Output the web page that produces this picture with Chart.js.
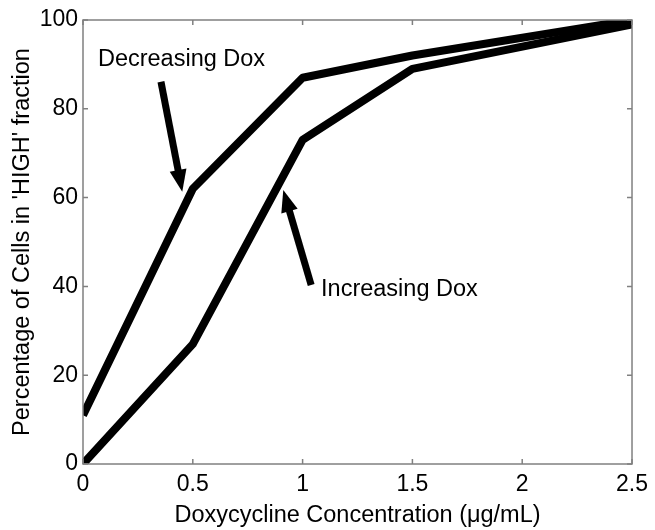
<!DOCTYPE html>
<html>
<head>
<meta charset="utf-8">
<script src="https://cdn.jsdelivr.net/npm/chart.js@4.4.1/dist/chart.umd.min.js"></script>
<style>
  html, body { margin: 0; padding: 0; background: #ffffff; }
  #wrap { width: 655px; height: 530px; }
</style>
</head>
<body>
<div id="wrap"><canvas id="c" width="655" height="530"></canvas></div>
<script>
// ---- data ----
const doseLevels = [0, 0.5, 1, 1.5, 2.5];
const decreasingDox = [11, 62, 87, 92, 100];
const increasingDox = [0, 27, 73, 89, 99];
const xTickValues = [0, 0.5, 1, 1.5, 2, 2.5];
const yTickValues = [0, 20, 40, 60, 80, 100];
const xTitle = 'Doxycycline Concentration (\u03BCg/mL)';
const yTitle = "Percentage of Cells in 'HIGH' fraction";
const labelTexts = ['Decreasing Dox', 'Increasing Dox'];

const FONT = '"Liberation Sans", Arial, Helvetica, sans-serif';
const AXIS_GRAY = '#808080';

// annotation anchors in data coordinates
const annotations = {
  texts: [
    { text: labelTexts[0], x: 0.068, y: 91.2 },
    { text: labelTexts[1], x: 1.084, y: 39.4 }
  ],
  arrows: [
    { from: [0.355, 86.1], to: [0.452, 61.3] },
    { from: [1.039, 40.3], to: [0.912, 61.7] }
  ]
};

function toPts(xs, ys) { return xs.map((x, i) => ({ x: x, y: ys[i] })); }

const framePlugin = {
  id: 'frameAndTicks',
  afterDatasetsDraw(chart) {
    const ctx = chart.ctx;
    const xs = chart.scales.x, ys = chart.scales.y;
    ctx.save();
    ctx.fillStyle = '#000';
    ctx.strokeStyle = '#000';
    annotations.arrows.forEach(ar => {
      const x0 = xs.getPixelForValue(ar.from[0]), y0 = ys.getPixelForValue(ar.from[1]);
      const x1 = xs.getPixelForValue(ar.to[0]), y1 = ys.getPixelForValue(ar.to[1]);
      const dx = x1 - x0, dy = y1 - y0, len = Math.hypot(dx, dy);
      const ux = dx / len, uy = dy / len;
      const headLen = 22, headW = 17;
      const bx = x1 - ux * headLen, by = y1 - uy * headLen;
      ctx.lineWidth = 7;
      ctx.lineCap = 'butt';
      ctx.beginPath();
      ctx.moveTo(x0, y0);
      ctx.lineTo(bx + ux * 2, by + uy * 2);
      ctx.stroke();
      ctx.beginPath();
      ctx.moveTo(x1, y1);
      ctx.lineTo(bx - uy * headW / 2, by + ux * headW / 2);
      ctx.lineTo(bx + uy * headW / 2, by - ux * headW / 2);
      ctx.closePath();
      ctx.fill();
    });
    ctx.font = '23.5px ' + FONT;
    ctx.textAlign = 'left';
    ctx.textBaseline = 'middle';
    ctx.fillStyle = '#000';
    annotations.texts.forEach(t => {
      ctx.fillText(t.text, xs.getPixelForValue(t.x), ys.getPixelForValue(t.y));
    });
    ctx.restore();
  },
  afterDraw(chart) {
    const ctx = chart.ctx;
    const a = chart.chartArea;
    const xs = chart.scales.x, ys = chart.scales.y;
    ctx.save();
    ctx.strokeStyle = AXIS_GRAY;
    ctx.lineWidth = 1.5;
    ctx.strokeRect(a.left, a.top, a.right - a.left, a.bottom - a.top);
    const tl = 5;
    ctx.beginPath();
    xs.ticks.forEach(t => {
      const px = xs.getPixelForValue(t.value);
      ctx.moveTo(px, a.bottom); ctx.lineTo(px, a.bottom - tl);
      ctx.moveTo(px, a.top); ctx.lineTo(px, a.top + tl);
    });
    ys.ticks.forEach(t => {
      const py = ys.getPixelForValue(t.value);
      ctx.moveTo(a.left, py); ctx.lineTo(a.left + tl, py);
      ctx.moveTo(a.right, py); ctx.lineTo(a.right - tl, py);
    });
    ctx.stroke();
    ctx.restore();
  }
};

const lineStyle = {
  borderColor: '#000000',
  borderWidth: 8,
  pointRadius: 0,
  pointHoverRadius: 0,
  tension: 0,
  fill: false,
  borderJoinStyle: 'round',
  borderCapStyle: 'butt'
};

new Chart(document.getElementById('c'), {
  type: 'line',
  data: {
    datasets: [
      Object.assign({ label: labelTexts[0], data: toPts(doseLevels, decreasingDox) }, lineStyle),
      Object.assign({ label: labelTexts[1], data: toPts(doseLevels, increasingDox) }, lineStyle)
    ]
  },
  options: {
    responsive: false,
    devicePixelRatio: 1,
    animation: false,
    events: [],
    layout: { padding: { left: 0, top: 20, right: 18, bottom: 0 } },
    plugins: { legend: { display: false }, tooltip: { enabled: false } },
    scales: {
      x: {
        type: 'linear',
        min: 0, max: 2.5,
        afterBuildTicks(s) { s.ticks = xTickValues.map(v => ({ value: v })); },
        afterFit(s) { s.height = 66; },
        grid: { display: false, drawTicks: false },
        border: { display: false },
        ticks: {
          color: '#000', padding: 7, maxRotation: 0, autoSkip: false,
          font: { family: FONT, size: 23 },
          callback: v => String(v)
        },
        title: {
          display: true, text: xTitle, color: '#000',
          font: { family: FONT, size: 23.5 }, padding: { top: 0, bottom: 0 }
        }
      },
      y: {
        type: 'linear',
        min: 0, max: 100,
        afterBuildTicks(s) { s.ticks = yTickValues.map(v => ({ value: v })); },
        afterFit(s) { s.width = 83; },
        grid: { display: false, drawTicks: false },
        border: { display: false },
        ticks: {
          color: '#000', padding: 5, autoSkip: false,
          font: { family: FONT, size: 23 },
          callback: v => String(v)
        },
        title: {
          display: true, text: yTitle, color: '#000',
          font: { family: FONT, size: 23.5 }, padding: { top: 8, bottom: 0 }
        }
      }
    }
  },
  plugins: [framePlugin]
});
</script>
</body>
</html>
